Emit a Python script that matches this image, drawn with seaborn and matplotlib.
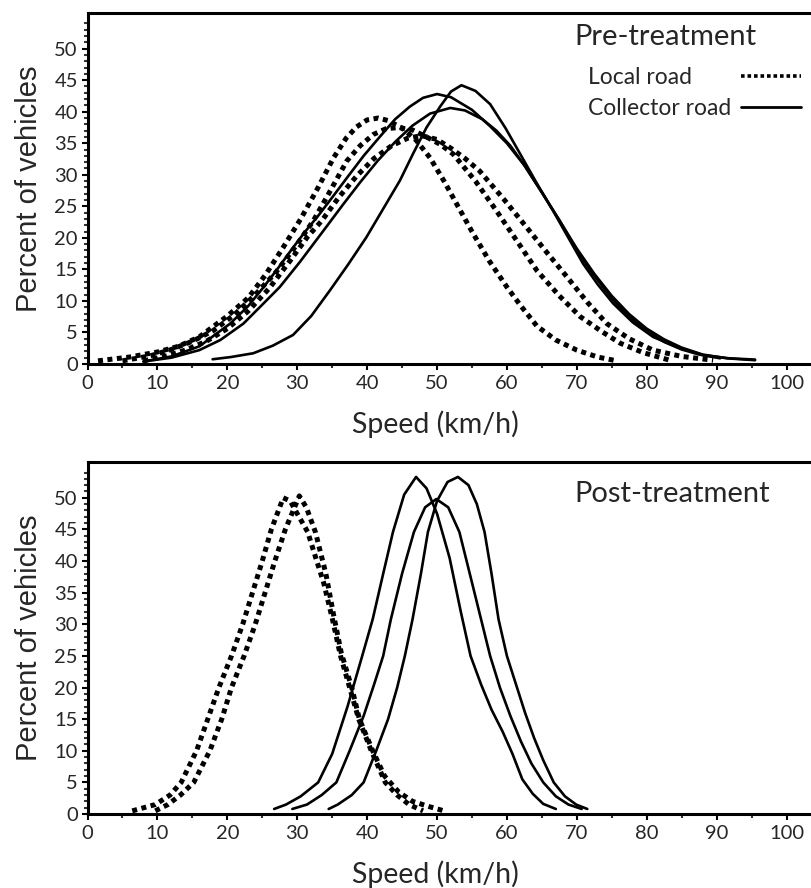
import numpy as np
import pandas as pd
import matplotlib
matplotlib.use("Agg")
import matplotlib.pyplot as plt
from matplotlib.lines import Line2D
import seaborn as sns

# Pre-treatment, local roads (dotted)
pre_local_1_x = [1.5, 6, 10, 13, 16, 20, 23, 25.5, 28, 30.5, 33, 35.2, 37, 38.5, 40, 41.6, 43, 45, 47, 49, 51, 53, 55, 57.5, 60, 62, 64.3, 67, 70, 73, 75.7]
pre_local_1_y = [0.5, 1.1, 1.9, 2.8, 4.3, 7.6, 10.5, 14.2, 18.5, 23, 28, 32.7, 35.8, 37.6, 38.7, 39, 38.6, 37.4, 35.5, 32.7, 29, 25, 21, 16.3, 12.2, 9.2, 6, 3.8, 2.2, 1.1, 0.5]
pre_local_2_x = [5, 9, 12, 15, 18, 21, 24, 27, 30, 32.3, 34.5, 37.1, 39, 40.9, 42.7, 44.5, 46.5, 48.5, 50.5, 52.3, 55.5, 58.5, 61.5, 64.3, 67.5, 70.5, 73.5, 76.2, 79.5, 83.3]
pre_local_2_y = [0.5, 1.3, 2.3, 3.6, 5.3, 7.8, 11, 14.6, 19, 22.7, 27, 32.2, 34.6, 36.4, 37.3, 37.5, 37.1, 36, 34.8, 33.3, 29, 24.3, 19.4, 14.8, 10.8, 7.5, 5.2, 3.3, 1.8, 0.6]
pre_local_3_x = [8, 11, 14, 17, 20, 23, 26, 29, 31.5, 33.5, 36, 38.5, 41, 43.5, 45.8, 47.8, 50, 52, 54, 56.1, 59.5, 62.8, 65.7, 68.6, 71.5, 74.3, 77.5, 80.9, 85, 89.5]
pre_local_3_y = [0.5, 1.2, 2.2, 3.6, 5.6, 8.4, 12, 16.4, 20.2, 22.7, 26.5, 29.8, 32.6, 34.6, 35.8, 36.2, 35.6, 34.2, 32.6, 30.6, 26.2, 21.7, 17.7, 13.8, 9.8, 6.4, 4.0, 2.2, 1.2, 0.6]

# Pre-treatment, collector roads (solid)
pre_coll_1_x = [8, 12, 16, 20.4, 23, 25.2, 27.4, 29.3, 31, 33, 35, 37.1, 39.5, 41.8, 44, 46.1, 48, 50, 52, 55, 57.5, 60, 62.5, 65, 67.5, 70, 72.5, 75, 77.5, 80, 82.5, 85, 87.5, 90.5]
pre_coll_1_y = [0.4, 1.2, 2.8, 6.4, 9.2, 12.2, 15.4, 18.3, 20.8, 23.5, 26.4, 29.5, 33, 36, 38.8, 40.8, 42.2, 42.8, 42.3, 40.3, 37.8, 35, 31.5, 27.2, 22.8, 18, 14, 10.4, 7.5, 5.2, 3.5, 2.3, 1.5, 0.9]
pre_coll_2_x = [17.9, 20.5, 23.7, 26.5, 29.4, 32, 34.7, 37.3, 39.9, 42.3, 44.7, 46.6, 48.5, 50.5, 52, 53.5, 55.5, 57.6, 59.8, 61.9, 64.2, 66.6, 68.8, 70.9, 73, 75.2, 78, 80.9, 84.5, 88.1, 91.8, 95.5]
pre_coll_2_y = [0.75, 1.1, 1.7, 2.9, 4.6, 7.6, 11.7, 15.8, 20.1, 24.6, 29.1, 33.4, 37.5, 40.9, 43.2, 44.2, 43.3, 41.2, 37.4, 33.3, 28.8, 24.3, 20, 15.9, 12.6, 9.6, 6.6, 4.3, 2.6, 1.4, 0.9, 0.7]
pre_coll_3_x = [8, 12, 16, 19, 22.3, 25, 27.5, 30.4, 32.3, 34, 36.5, 39, 41.5, 44, 46.5, 49, 51.9, 54, 56.5, 58.5, 60.5, 62.5, 65, 67.5, 70, 72.5, 75, 77.5, 80, 82.5, 85, 88, 91.5, 95.5]
pre_coll_3_y = [0.4, 1.0, 2.2, 3.8, 6.4, 9.4, 12.2, 16.2, 19, 21.5, 25.2, 28.8, 32.2, 35.2, 37.8, 39.7, 40.6, 40.2, 38.8, 37, 34.6, 31.5, 27.2, 22.8, 18.3, 14.3, 10.8, 7.9, 5.6, 3.9, 2.6, 1.5, 0.9, 0.6]

# Post-treatment, local roads (dotted)
post_local_1_x = [6.4, 9.7, 11.8, 13.4, 15.6, 17.2, 18.8, 20.6, 22.2, 23.6, 25, 26.3, 28, 29, 30, 31.5, 32.8, 33.8, 35, 36.2, 37.5, 38.8, 40.6, 42.6, 44.3, 46, 48]
post_local_1_y = [0.5, 1.5, 3, 5, 10, 15, 20, 25, 30, 35, 40, 45, 50, 49.5, 47.5, 44.6, 40, 36.5, 31, 25, 20, 15, 10, 5, 3, 1.5, 0.5]
post_local_2_x = [9.7, 11.5, 13.3, 15.2, 17.5, 19.2, 20.6, 22.4, 24, 25.4, 26.8, 28.3, 30.3, 31.3, 32.6, 34.1, 35.2, 36.3, 37.8, 38.9, 40.8, 42.5, 44.5, 46.5, 48.8, 51]
post_local_2_y = [0.5, 1.5, 3, 5, 10, 15, 20, 25, 30, 35, 40, 45, 50.3, 48.5, 44.6, 38, 31.5, 25.5, 20, 15, 10, 6, 3.5, 2, 1.2, 0.5]

# Post-treatment, collector roads (solid)
post_coll_1_x = [26.7, 28.4, 30.5, 33, 35, 37.2, 39.3, 40.8, 42.3, 43.7, 45.3, 47, 48.5, 50, 51.8, 53.4, 54.8, 56.3, 57.8, 59.4, 60.8, 62.2, 63.7, 65.2, 67]
post_coll_1_y = [0.8, 1.5, 2.8, 5, 9.5, 17, 25, 30.8, 38, 44.6, 50.5, 53.3, 51.5, 47.5, 40.5, 32, 25, 20.5, 16.5, 13, 9.5, 5.5, 3.2, 1.6, 0.8]
post_coll_2_x = [29.3, 31.4, 33.5, 35.6, 37.5, 39.5, 41, 42.3, 43.4, 45, 46.7, 48.3, 49.9, 51.6, 53.2, 54.8, 56.3, 57.6, 59, 60.5, 62, 63.5, 65.2, 67, 68.8, 70.7]
post_coll_2_y = [0.8, 1.5, 3, 5, 10, 15.5, 20.5, 25, 30.8, 38, 44.6, 48.5, 49.8, 48.5, 44.6, 37.5, 30.8, 25, 20, 15.5, 11.5, 8, 5, 2.8, 1.5, 0.8]
post_coll_3_x = [34.5, 35.8, 37.8, 39.5, 41.3, 43, 44.3, 45.4, 46.5, 47.7, 48.7, 50, 51.5, 53, 54.5, 55.7, 56.8, 57.8, 58.8, 60, 61.3, 62.6, 63.9, 65.2, 66.7, 68.3, 69.9, 71.5]
post_coll_3_y = [0.8, 1.5, 3, 5, 10, 15, 20, 25, 30.8, 38, 44.6, 49.5, 52.5, 53.3, 52, 49, 44.6, 38, 30.8, 25, 20.5, 16, 12, 8.5, 5, 2.8, 1.5, 0.8]

x_ticks = [0, 10, 20, 30, 40, 50, 60, 70, 80, 90, 100]
y_ticks = [0, 5, 10, 15, 20, 25, 30, 35, 40, 45, 50]

sns.set_theme(style="ticks")
plt.rcParams['font.family'] = ['Lato', 'DejaVu Sans']
plt.rcParams['lines.scale_dashes'] = True

fig = plt.figure(figsize=(8.11, 8.88), dpi=100)
ax_pre = fig.add_axes([0.1079, 0.5901, 0.905, 0.3956])
ax_post = fig.add_axes([0.1079, 0.0833, 0.905, 0.3967])

dot_style = dict(color="black", linewidth=3.6, linestyle=(0, (1, 0.9)))
solid_style = dict(color="black", linewidth=1.9, linestyle="-")

pre_local = [(pre_local_1_x, pre_local_1_y), (pre_local_2_x, pre_local_2_y), (pre_local_3_x, pre_local_3_y)]
pre_coll = [(pre_coll_1_x, pre_coll_1_y), (pre_coll_2_x, pre_coll_2_y), (pre_coll_3_x, pre_coll_3_y)]
post_local = [(post_local_1_x, post_local_1_y), (post_local_2_x, post_local_2_y)]
post_coll = [(post_coll_1_x, post_coll_1_y), (post_coll_2_x, post_coll_2_y), (post_coll_3_x, post_coll_3_y)]

for ax, local, coll in [(ax_pre, pre_local, pre_coll), (ax_post, post_local, post_coll)]:
    for xs, ys in local:
        sns.lineplot(x=xs, y=ys, ax=ax, sort=False, estimator=None, **dot_style)
    for xs, ys in coll:
        sns.lineplot(x=xs, y=ys, ax=ax, sort=False, estimator=None, **solid_style)

    ax.set_xlim(0, 104.8)
    ax.set_ylim(0, 55.7)
    ax.set_xticks(x_ticks)
    ax.set_xticks([v + 5 for v in x_ticks], minor=True)
    ax.set_yticks(y_ticks)
    ax.set_yticks([i for i in range(56) if i % 5 != 0], minor=True)
    ax.tick_params(axis="both", which="major", direction="out", length=4, width=1.5,
                   labelsize=14.5, pad=4, color="black")
    ax.tick_params(axis="both", which="minor", direction="out", length=3, width=1.5, color="#333333")
    ax.tick_params(axis="y", which="major", pad=3)
    for side in ["left", "bottom", "top"]:
        ax.spines[side].set_linewidth(2.2)
        ax.spines[side].set_color("black")
    ax.spines["right"].set_visible(False)
    ax.set_xlabel("Speed (km/h)", fontsize=20.5, labelpad=13)
    ax.xaxis.label.set_x(0.4735)
    ax.set_ylabel("Percent of vehicles", fontsize=21, labelpad=8,
                  family=["Liberation Sans", "DejaVu Sans"])
    ax.grid(False)

ax_pre.text(0.664, 0.93, "Pre-treatment", transform=ax_pre.transAxes,
            fontsize=21, ha="left", va="center")
ax_post.text(0.664, 0.908, "Post-treatment", transform=ax_post.transAxes,
             fontsize=21, ha="left", va="center")

blank = Line2D([], [], linestyle="none")
local_handle = Line2D([], [], color="black", linewidth=2.6, linestyle=(0, (1, 0.8)))
coll_handle = Line2D([], [], color="black", linewidth=2.0)
ax_pre.legend([blank, blank, local_handle, coll_handle],
              ["Local road", "Collector road", "", ""],
              ncol=2, frameon=False, loc="upper left", bbox_to_anchor=(0.588, 0.872),
              fontsize=16.5, handlelength=2.6, handletextpad=0.0, columnspacing=0.44,
              labelspacing=0.45, borderaxespad=0)

fig.savefig("out.png", dpi=100)
